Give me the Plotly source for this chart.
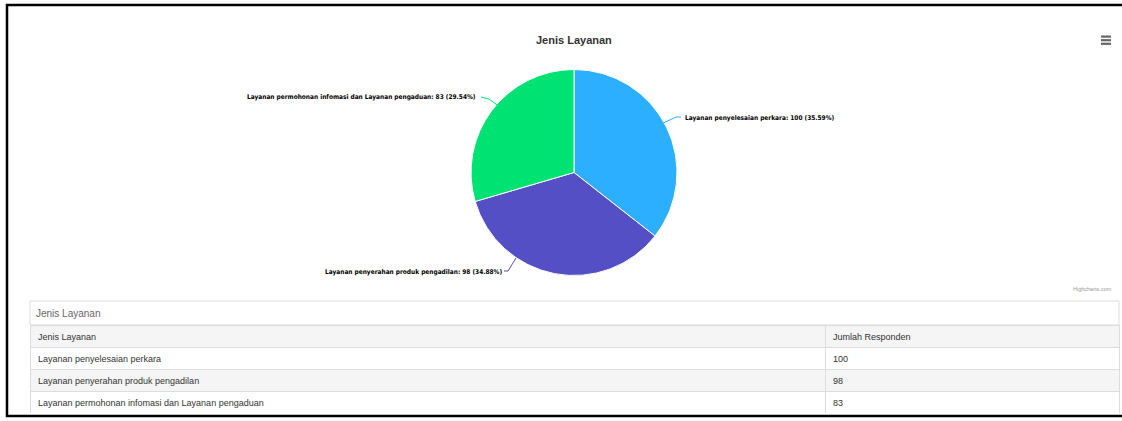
import plotly.graph_objects as go

# ---- data ----
categories = ["Layanan penyelesaian perkara",
              "Layanan penyerahan produk pengadilan",
              "Layanan permohonan infomasi dan Layanan pengaduan"]
values = [100, 98, 83]
colors = ["#2caffe", "#544fc5", "#00e272"]
title_text = "Jenis Layanan"
table_caption = "Jenis Layanan"
table_headers = ["Jenis Layanan", "Jumlah Responden"]

W, H = 1122, 421
total = sum(values)
pcts = [v / total * 100 for v in values]


def px(x):
    return x / W


def py(y):
    return 1 - y / H


fig = go.Figure()

# pie
cx, cy, r = 574, 172.5, 103
fig.add_trace(go.Pie(
    labels=categories, values=values, sort=False, direction="clockwise",
    rotation=0, textinfo="none", hoverinfo="label+value+percent",
    marker=dict(colors=colors, line=dict(color="white", width=1)),
    domain=dict(x=[px(cx - r), px(cx + r)], y=[py(cy + r), py(cy - r)]),
    showlegend=False,
))

# table (caption drawn separately)
row_fill = ["white", "#f5f5f5", "white"]
fig.add_trace(go.Table(
    domain=dict(x=[px(30), px(1119)], y=[py(413), py(325)]),
    columnwidth=[795, 294],
    header=dict(values=table_headers, align="left", height=22,
                fill_color="#f5f5f5", line=dict(color="#dddddd", width=1),
                font=dict(family="Liberation Sans, Arial", size=9, color="#333333")),
    cells=dict(values=[categories, values], align="left", height=22,
               fill_color=[row_fill, row_fill], line=dict(color="#dddddd", width=1),
               font=dict(family="Liberation Sans, Arial", size=9, color="#333333")),
))

shapes = []
annotations = []

# data labels with connectors
label_font = dict(family="Liberation Sans Narrow, DejaVu Sans Condensed, Arial", size=6.5, color="#000000")
label_specs = [
    # (text anchor x, y, xanchor, connector path points)
    (683, 118, "left", [(657, 126), (676, 117), (681, 117)]),
    (504, 272, "right", [(516, 258), (508, 271), (504, 271)]),
    (478, 97, "right", [(500, 107), (489, 99), (481, 97)]),
]
for i, (tx, ty, xa, pts) in enumerate(label_specs):
    annotations.append(dict(
        x=px(tx), y=py(ty), xref="paper", yref="paper", xanchor=xa, yanchor="middle",
        text=f"<b>{categories[i]}: {values[i]} ({pcts[i]:.2f}%)</b>",
        showarrow=False, font=label_font))
    path = "M " + " L ".join(f"{px(a)},{py(b)}" for a, b in pts)
    shapes.append(dict(type="path", xref="paper", yref="paper", path=path,
                       line=dict(color=colors[i], width=1)))

# title
annotations.append(dict(x=px(574), y=py(40), xref="paper", yref="paper",
                        xanchor="center", yanchor="middle",
                        text=f"<b>{title_text}</b>", showarrow=False,
                        font=dict(family="Liberation Sans, Arial", size=11, color="#333333")))

# credits
annotations.append(dict(x=px(1114), y=py(289), xref="paper", yref="paper",
                        xanchor="right", yanchor="middle",
                        text="Highcharts.com", showarrow=False,
                        font=dict(family="Liberation Sans, Arial", size=5.5, color="#999999")))

# table caption row
shapes.append(dict(type="rect", xref="paper", yref="paper",
                   x0=px(30), x1=px(1119), y0=py(325), y1=py(301),
                   fillcolor="white", line=dict(color="#dddddd", width=1)))
annotations.append(dict(x=px(34), y=py(313), xref="paper", yref="paper",
                        xanchor="left", yanchor="middle",
                        text=table_caption, showarrow=False,
                        font=dict(family="Liberation Sans, Arial", size=10, color="#666666")))

# menu icon
for k in range(3):
    yy = 35.5 + k * 3.6
    shapes.append(dict(type="rect", xref="paper", yref="paper",
                       x0=px(1101), x1=px(1111), y0=py(yy + 2.2), y1=py(yy),
                       fillcolor="#666666", line=dict(width=0)))

# outer black frame
shapes.append(dict(type="rect", xref="paper", yref="paper",
                   x0=px(7), x1=px(1135), y0=py(416), y1=py(5),
                   fillcolor="rgba(0,0,0,0)", line=dict(color="#000000", width=2.5)))

fig.update_layout(
    width=W, height=H, margin=dict(l=0, r=0, t=0, b=0),
    paper_bgcolor="white", plot_bgcolor="white",
    shapes=shapes, annotations=annotations,
)

fig.write_html("out.html", config={"displayModeBar": False},
               post_script="document.body.style.margin='0px';document.body.style.overflow='hidden';")
